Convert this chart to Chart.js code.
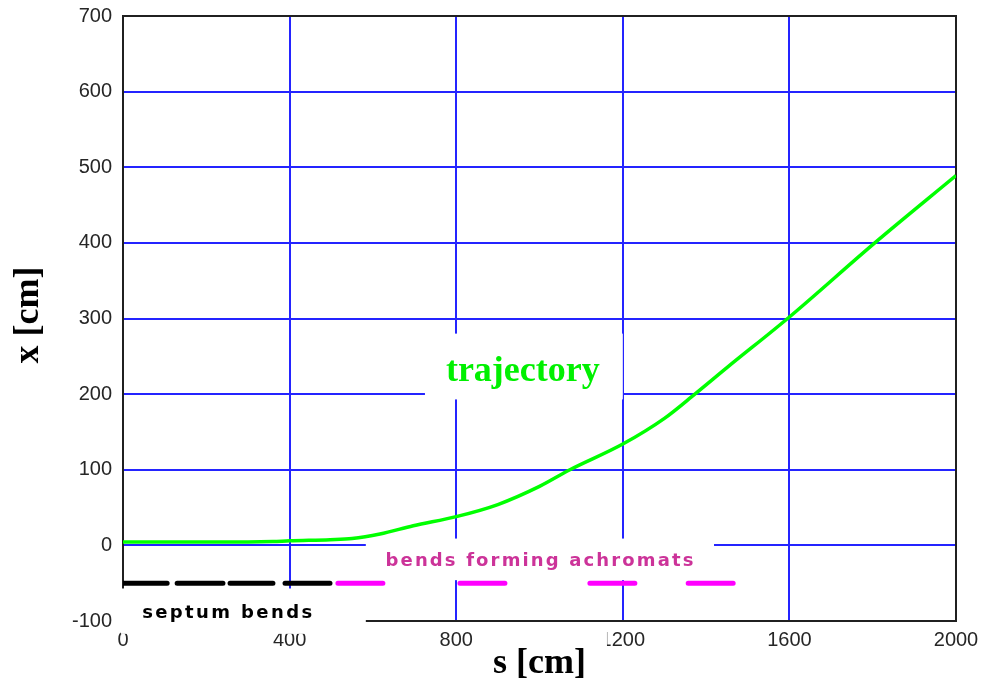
<!DOCTYPE html>
<html>
<head>
<meta charset="utf-8">
<script src="https://cdn.jsdelivr.net/npm/chart.js@4.4.1/dist/chart.umd.min.js"></script>
<style>
  html, body { margin: 0; padding: 0; background: #ffffff; }
  #wrap { width: 983px; height: 683px; position: relative; }
</style>
</head>
<body>
<div id="wrap"><canvas id="c" width="983" height="683"></canvas></div>
<script>
// ---- data ----
const sTrajectory = [0, 100, 200, 300, 360, 400, 497, 550, 617, 697, 800, 900, 1000, 1073, 1200, 1300, 1373, 1450, 1600, 1805, 2000];
const xTrajectory = [4.5, 4.5, 4.5, 4.5, 5, 6, 7.5, 9, 15, 26, 38, 54, 78, 100, 134, 168, 200, 235, 302, 400, 489];

const septumStart = [0, 130, 257, 389];
const septumEnd   = [106, 240, 360, 497];
const achromatStart = [516, 809, 1121, 1357];
const achromatEnd   = [624, 917, 1229, 1465];
const bendLevel = -50;

const xTicks = [0, 400, 800, 1200, 1600, 2000];
const yTicks = [-100, 0, 100, 200, 300, 400, 500, 600, 700];

const xAxisTitle = 's [cm]';
const yAxisTitle = 'x [cm]';
const labelTrajectory = 'trajectory';
const labelAchromats = 'bends forming achromats';
const labelSeptum = 'septum bends';

// ---- build datasets ----
function segments(starts, ends, level) {
  const pts = [];
  for (let i = 0; i < starts.length; i++) {
    pts.push({x: starts[i], y: level});
    pts.push({x: ends[i], y: level});
    if (i < starts.length - 1) pts.push({x: (ends[i] + starts[i + 1]) / 2, y: null});
  }
  return pts;
}
const trajPts = sTrajectory.map((s, i) => ({x: s, y: xTrajectory[i]}));

// white label boxes, in data coordinates
const boxes = [
  {x0: 725, x1: 1200, y0: 193, y1: 280},   // trajectory
  {x0: 583, x1: 1419, y0: -46, y1: 9},     // bends forming achromats
  {x0: -5,  x1: 583,  y0: -117, y1: -57},  // septum bends
  {x0: 840, x1: 1162, y0: -185, y1: -112}  // axis title
];

const decor = {
  id: 'decor',
  beforeDatasetsDraw(chart) {
    const {ctx, chartArea: a, scales: {x, y}} = chart;
    ctx.save();
    // frame
    ctx.strokeStyle = '#202020';
    ctx.lineWidth = 2;
    ctx.strokeRect(a.left, a.top, a.right - a.left, a.bottom - a.top);
    // white boxes
    ctx.fillStyle = '#ffffff';
    boxes.forEach(b => {
      const px0 = x.getPixelForValue(b.x0), px1 = x.getPixelForValue(b.x1);
      const py0 = y.getPixelForValue(b.y1), py1 = y.getPixelForValue(b.y0);
      ctx.fillRect(px0, py0, px1 - px0, py1 - py0);
    });
    ctx.restore();
  },
  afterDraw(chart) {
    const {ctx, scales: {x, y}} = chart;
    ctx.save();
    ctx.textBaseline = 'middle';
    function spaced(text, cx, cy, font, color, targetW) {
      ctx.font = font;
      ctx.fillStyle = color;
      ctx.letterSpacing = '0px';
      const w = ctx.measureText(text).width;
      const sp = Math.max(0, (targetW - w) / (text.length - 1));
      ctx.letterSpacing = sp + 'px';
      ctx.textAlign = 'left';
      ctx.fillText(text, cx - targetW / 2, cy);
      ctx.letterSpacing = '0px';
    }
    // trajectory
    ctx.font = 'bold 36px "Liberation Serif", "Times New Roman", serif';
    ctx.fillStyle = '#00f000';
    ctx.textAlign = 'center';
    ctx.fillText(labelTrajectory, x.getPixelForValue(960), y.getPixelForValue(229));
    // achromats
    spaced(labelAchromats, x.getPixelForValue(1000), y.getPixelForValue(-21),
      'bold 18px "DejaVu Sans", Verdana, sans-serif', '#cc3399', 308);
    // septum
    spaced(labelSeptum, x.getPixelForValue(250), y.getPixelForValue(-90),
      'bold 18px "DejaVu Sans", Verdana, sans-serif', '#000000', 170);
    // axis titles
    ctx.font = 'bold 36px "Liberation Serif", "Times New Roman", serif';
    ctx.fillStyle = '#000000';
    ctx.textAlign = 'center';
    ctx.fillText(xAxisTitle, (x.left + x.right) / 2, 664);
    ctx.translate(29, 315);
    ctx.rotate(-Math.PI / 2);
    ctx.fillText(yAxisTitle, 0, 0);
    ctx.restore();
  }
};

const edgeless = (ctx) => {
  const v = ctx.tick && ctx.tick.value;
  const sc = ctx.scale;
  return (v === sc.min || v === sc.max) ? 'rgba(0,0,0,0)' : '#2424ff';
};

new Chart(document.getElementById('c'), {
  type: 'line',
  data: {
    datasets: [
      {
        label: 'trajectory',
        data: trajPts,
        borderColor: '#00ff00',
        borderWidth: 3.5,
        pointRadius: 0,
        cubicInterpolationMode: 'monotone',
        order: 1
      },
      {
        label: 'septum bends',
        data: segments(septumStart, septumEnd, bendLevel),
        borderColor: '#000000',
        borderWidth: 5,
        borderCapStyle: 'round',
        pointRadius: 0,
        spanGaps: false,
        order: 2
      },
      {
        label: 'bends forming achromats',
        data: segments(achromatStart, achromatEnd, bendLevel),
        borderColor: '#ff00ff',
        borderWidth: 5,
        borderCapStyle: 'round',
        pointRadius: 0,
        spanGaps: false,
        order: 3
      }
    ]
  },
  options: {
    responsive: false,
    animation: false,
    devicePixelRatio: 1,
    layout: {padding: {top: 16, right: 27, left: 0, bottom: 0}},
    plugins: {legend: {display: false}, tooltip: {enabled: false}},
    scales: {
      x: {
        type: 'linear',
        min: 0, max: 2000,
        afterFit: (s) => { s.height = 62; s.paddingLeft = 0; s.paddingRight = 0; },
        afterBuildTicks: (s) => { s.ticks = xTicks.map(v => ({value: v})); },
        grid: {color: edgeless, lineWidth: 2, drawTicks: false},
        border: {display: false},
        ticks: {
          padding: 7,
          color: '#262626',
          maxRotation: 0,
          autoSkip: false,
          callback: (v) => String(v),
          font: {family: '"Liberation Sans", Arial, sans-serif', size: 20}
        }
      },
      y: {
        type: 'linear',
        min: -100, max: 700,
        afterFit: (s) => { s.width = 123; s.paddingTop = 0; s.paddingBottom = 0; },
        afterBuildTicks: (s) => { s.ticks = yTicks.map(v => ({value: v})); },
        grid: {color: edgeless, lineWidth: 2, drawTicks: false},
        border: {display: false},
        ticks: {
          padding: 11,
          color: '#262626',
          autoSkip: false,
          callback: (v) => String(v),
          font: {family: '"Liberation Sans", Arial, sans-serif', size: 20}
        }
      }
    }
  },
  plugins: [decor]
});
</script>
</body>
</html>
